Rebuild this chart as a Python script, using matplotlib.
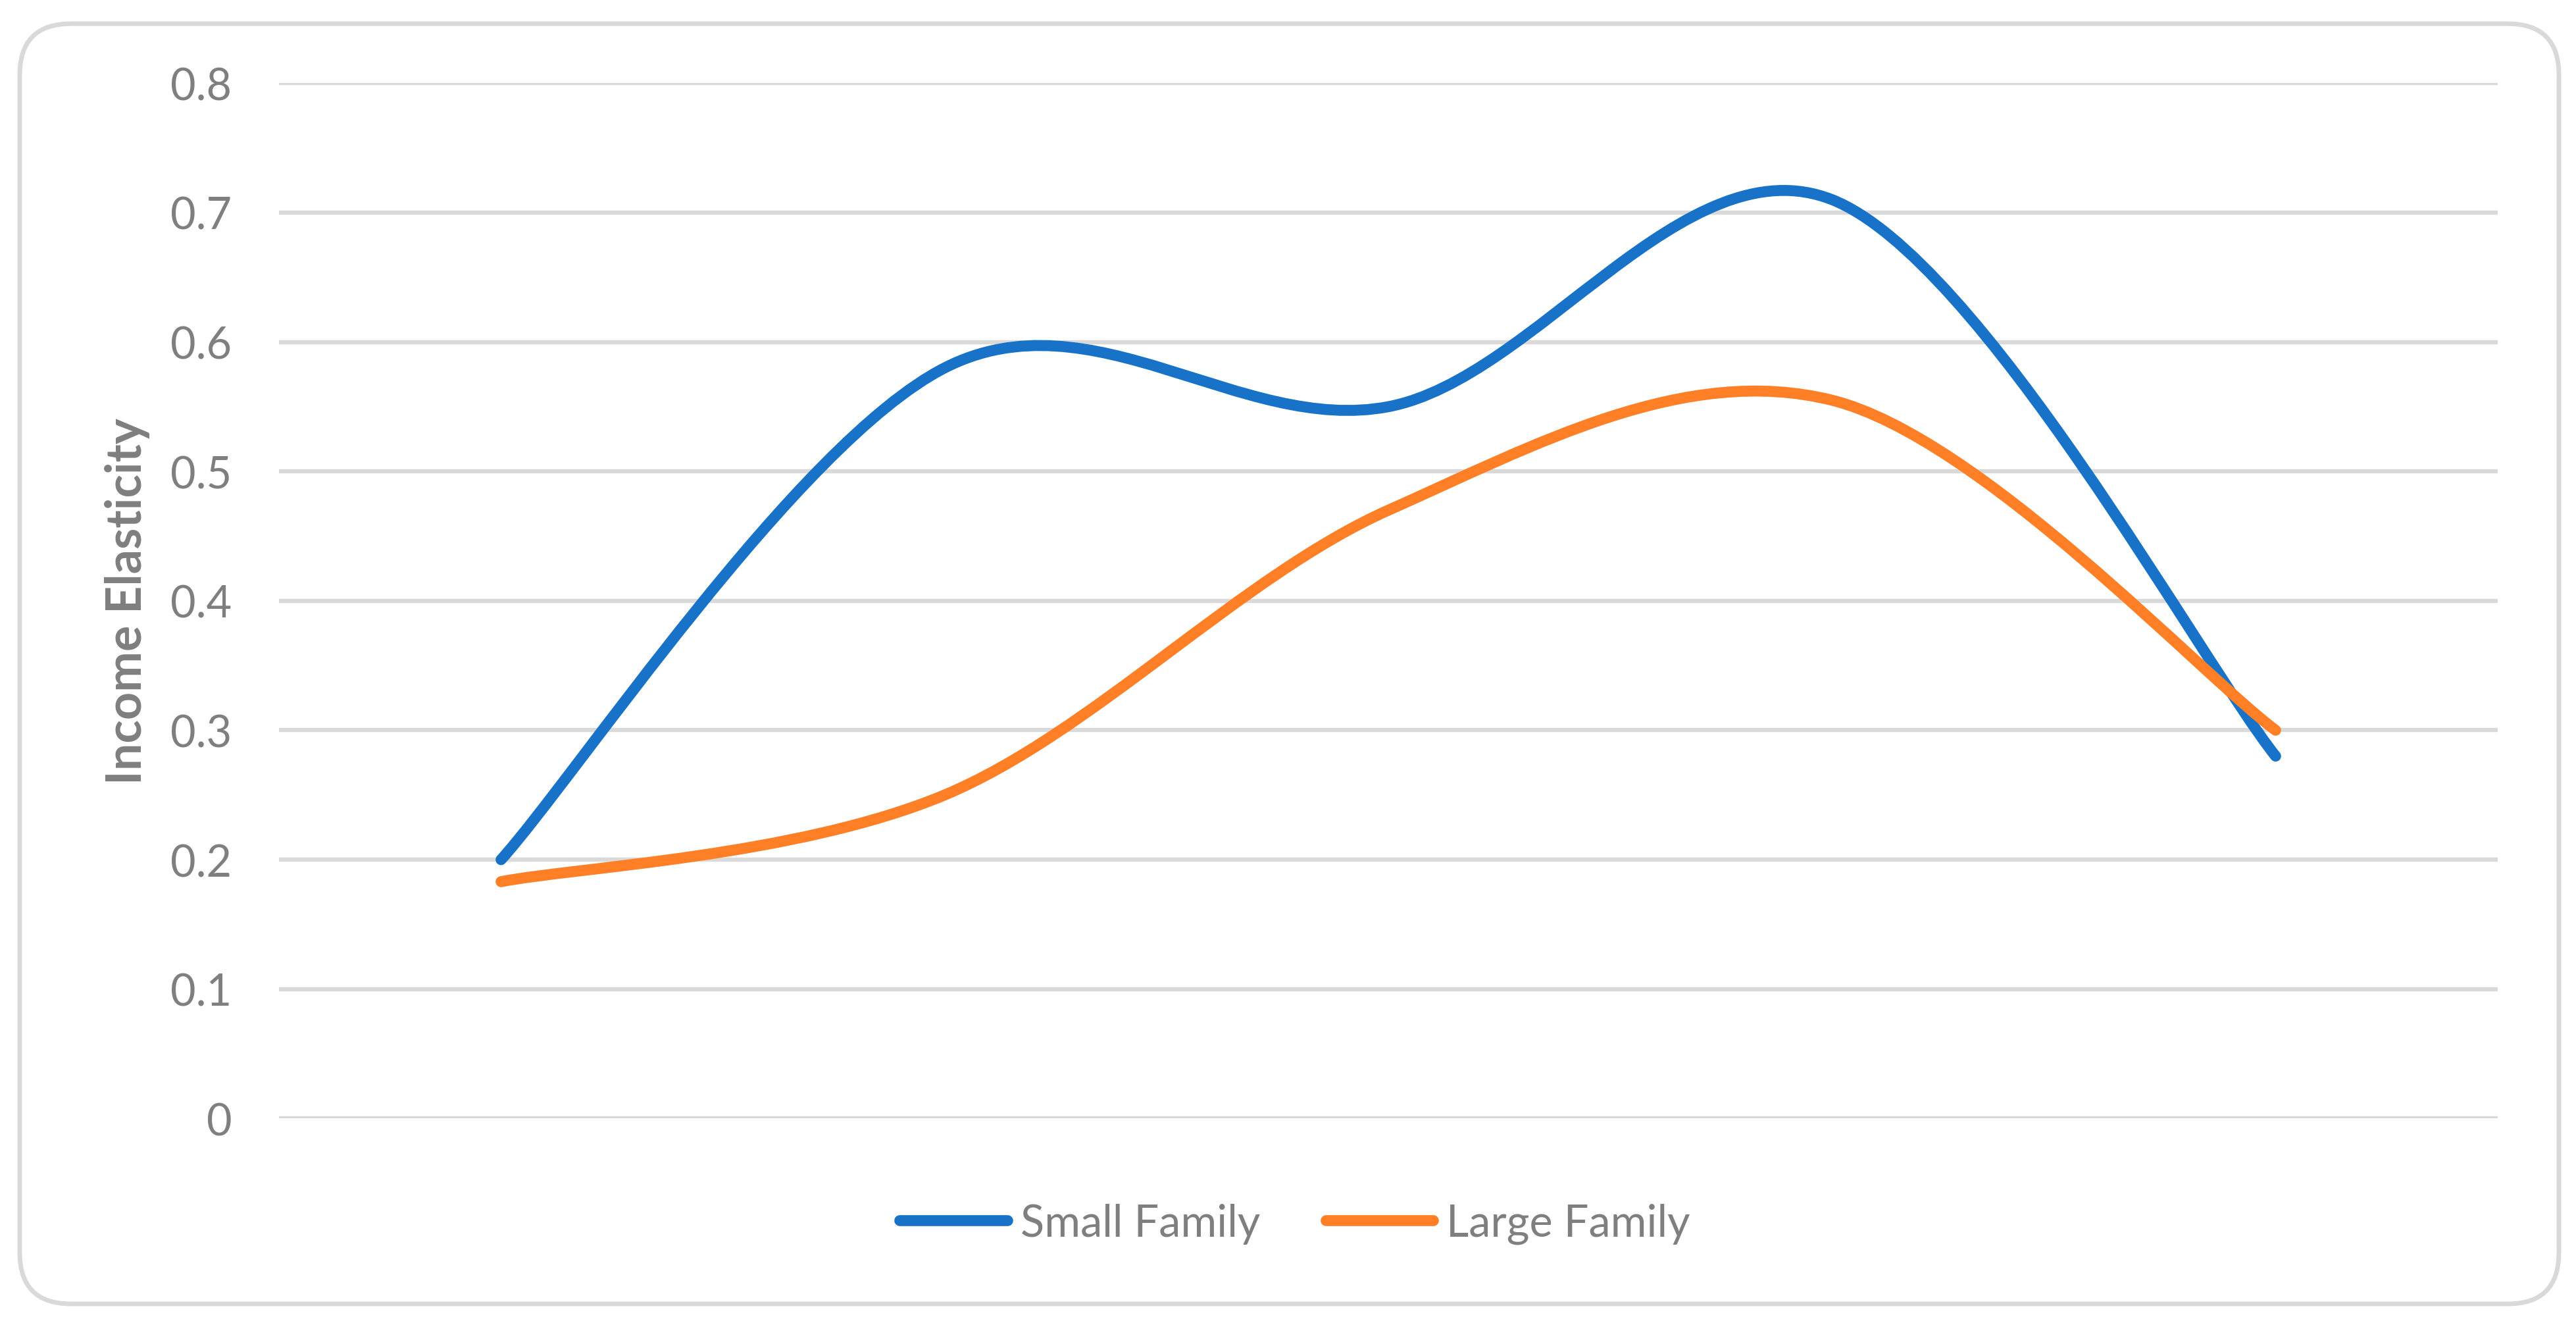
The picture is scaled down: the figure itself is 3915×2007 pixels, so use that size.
import numpy as np
import matplotlib
matplotlib.use('Agg')
import matplotlib.pyplot as plt
from matplotlib.path import Path
from matplotlib.patches import PathPatch, FancyBboxPatch
from matplotlib.lines import Line2D

plt.rcParams['font.family'] = ['Lato', 'DejaVu Sans']

# ---- data ----
categories = ['1', '2', '3', '4', '5']   # category axis has no visible labels
small_family = [0.20, 0.58, 0.55, 0.71, 0.28]
large_family = [0.183, 0.25, 0.47, 0.555, 0.30]
series_names = ['Small Family', 'Large Family']
series_colors = ['#1873C8', '#FF7F27']
y_ticks = [0, 0.1, 0.2, 0.3, 0.4, 0.5, 0.6, 0.7, 0.8]
y_tick_labels = ['0', '0.1', '0.2', '0.3', '0.4', '0.5', '0.6', '0.7', '0.8']

GREY = '#7F7F7F'
GRID = '#D9D9D9'


def excel_smooth(xs, ys):
    """Bezier path through the points, 1/6 tangents like Excel's smoothed line."""
    pts = np.column_stack([xs, ys]).astype(float)
    n = len(pts)
    verts = [pts[0]]
    codes = [Path.MOVETO]
    for i in range(n - 1):
        p0 = pts[max(i - 1, 0)]
        p1 = pts[i]
        p2 = pts[i + 1]
        p3 = pts[min(i + 2, n - 1)]
        verts += [p1 + (p2 - p0) / 6, p2 - (p3 - p1) / 6, p2]
        codes += [Path.CURVE4] * 3
    return Path(verts, codes)


fig = plt.figure(figsize=(19.575, 10.04), dpi=200)

# rounded chart border
bg = fig.add_axes([0, 0, 1, 1])
bg.set_xlim(0, 3915)
bg.set_ylim(2008, 0)
bg.axis('off')
bg.add_patch(FancyBboxPatch((30, 37), 3859, 1945,
                            boxstyle='round,pad=0,rounding_size=78',
                            fc='white', ec=GRID, lw=2.5))

ax = fig.add_axes([0.1084, 0.1532, 0.8611, 0.7834])
ax.patch.set_visible(False)

x = np.arange(len(categories))
for i, (vals, color) in enumerate(zip([small_family, large_family], series_colors)):
    patch = PathPatch(excel_smooth(x, vals), fc='none', ec=color, lw=6,
                      capstyle='round', joinstyle='round', zorder=3 + i)
    ax.add_patch(patch)

ax.set_xlim(-0.5, len(categories) - 0.5)
ax.set_ylim(0, 0.8)
ax.set_xticks([])
ax.set_yticks(y_ticks)
ax.set_yticklabels(y_tick_labels)
ax.tick_params(axis='y', length=0, pad=26, labelsize=24, labelcolor=GREY)
ax.yaxis.grid(True, color=GRID, lw=2.3)
ax.set_axisbelow(True)
for s in ax.spines.values():
    s.set_visible(False)

fig.text(0.0495, 0.545, 'Income Elasticity', rotation=90, ha='center', va='center',
         fontsize=26.5, fontweight='bold', color=GREY)

handles = [Line2D([], [], color=c, lw=6, solid_capstyle='round') for c in series_colors]
fig.legend(handles, series_names, loc='center', bbox_to_anchor=(0.5027, 0.0737),
           ncol=2, frameon=False, fontsize=24, handlelength=2.45,
           handletextpad=0.3, columnspacing=1.5, labelcolor=GREY)

fig.savefig('out.png', dpi=200)
